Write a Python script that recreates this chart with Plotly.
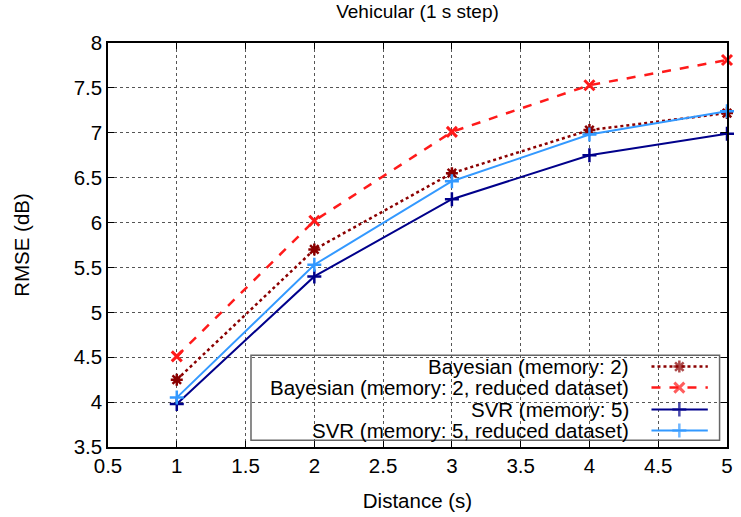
import plotly.graph_objects as go

# ---- data ----
distance = [1, 2, 3, 4, 5]
bayes_mem2 = [4.25, 5.70, 6.55, 7.03, 7.22]
bayes_mem2_reduced = [4.51, 6.02, 7.01, 7.53, 7.81]
svr_mem5 = [3.98, 5.40, 6.26, 6.75, 6.99]
svr_mem5_reduced = [4.05, 5.53, 6.46, 6.98, 7.24]

names = [
    "Bayesian (memory: 2)",
    "Bayesian (memory: 2, reduced dataset)",
    "SVR (memory: 5)",
    "SVR (memory: 5, reduced dataset)",
]
series = [bayes_mem2, bayes_mem2_reduced, svr_mem5, svr_mem5_reduced]

styles = [
    dict(color="#8B0000", dash="dot", width=2.5, symbol="asterisk", msize=10, mlw=2.5),
    dict(color="#FF1A1A", dash="dash", width=2.5, symbol="x-thin", msize=10, mlw=3),
    dict(color="#00008B", dash="solid", width=2, symbol="cross-thin", msize=10, mlw=2.5),
    dict(color="#3399FF", dash="solid", width=2, symbol="cross-thin", msize=10, mlw=2.5),
]

FONT = "Liberation Sans, Arial, Helvetica, sans-serif"
FS = 20.5
fig = go.Figure()

for name, ys, st in zip(names, series, styles):
    fig.add_trace(go.Scatter(
        x=distance, y=ys, name=name, mode="lines+markers",
        line=dict(color=st["color"], dash=st["dash"], width=st["width"]),
        marker=dict(symbol=st["symbol"], size=st["msize"],
                    color=st["color"], line=dict(color=st["color"], width=st["mlw"])),
        showlegend=False, cliponaxis=False,
    ))

# ---- custom legend (text right-aligned, sample on the right) ----
leg_x0, leg_x1 = 0.231, 0.988
leg_y0, leg_y1 = 0.017, 0.227
row_y = [0.199, 0.147, 0.093, 0.041]
text_right = 0.845
samp_x0, samp_xm, samp_x1 = 0.878, 0.923, 0.969

fig.add_shape(type="rect", xref="paper", yref="paper",
              x0=leg_x0, x1=leg_x1, y0=leg_y0, y1=leg_y1,
              line=dict(color="#666666", width=1.5), fillcolor="white", layer="between")

for name, st, ry in zip(names, styles, row_y):
    fig.add_annotation(x=text_right, y=ry, xref="paper", yref="paper",
                       text=name, showarrow=False, xanchor="right", yanchor="middle",
                       font=dict(family=FONT, size=FS, color="black"))
    fig.add_trace(go.Scatter(
        x=[samp_x0, samp_xm, samp_x1], y=[ry, ry, ry], xaxis="x2", yaxis="y2",
        mode="lines+markers",
        line=dict(color=st["color"], dash=st["dash"], width=st["width"]),
        marker=dict(symbol=st["symbol"], size=[0, st["msize"], 0], color=st["color"],
                    line=dict(color=st["color"], width=st["mlw"])),
        showlegend=False, hoverinfo="skip",
    ))

axis_common = dict(
    showline=True, linecolor="black", linewidth=1.5, mirror="ticks",
    ticks="inside", ticklen=6, tickcolor="black", tickwidth=1,
    showgrid=True, gridcolor="#555555", griddash="dot", gridwidth=1,
    zeroline=False, tickfont=dict(family=FONT, size=FS, color="black"),
)

fig.update_layout(
    width=741, height=517,
    margin=dict(l=108, r=8, t=43, b=68),
    paper_bgcolor="white", plot_bgcolor="white",
    font=dict(family=FONT, size=FS, color="black"),
    xaxis=dict(range=[0.5, 5], dtick=0.5, tick0=0.5,
               title=dict(text="Distance (s)", font=dict(family=FONT, size=FS), standoff=17),
               **axis_common),
    yaxis=dict(range=[3.5, 8], dtick=0.5, tick0=3.5,
               title=dict(text="RMSE (dB)", font=dict(family=FONT, size=FS), standoff=38),
               **axis_common),
    xaxis2=dict(overlaying="x", range=[0, 1], visible=False, fixedrange=True),
    yaxis2=dict(overlaying="y", range=[0, 1], visible=False, fixedrange=True),
    title=dict(text="Vehicular (1 s step)", x=0.5, xref="paper", xanchor="center",
               y=0.99, yanchor="top", yref="container",
               font=dict(family=FONT, size=19, color="black")),
    showlegend=False,
)

fig.write_html("out.html")
